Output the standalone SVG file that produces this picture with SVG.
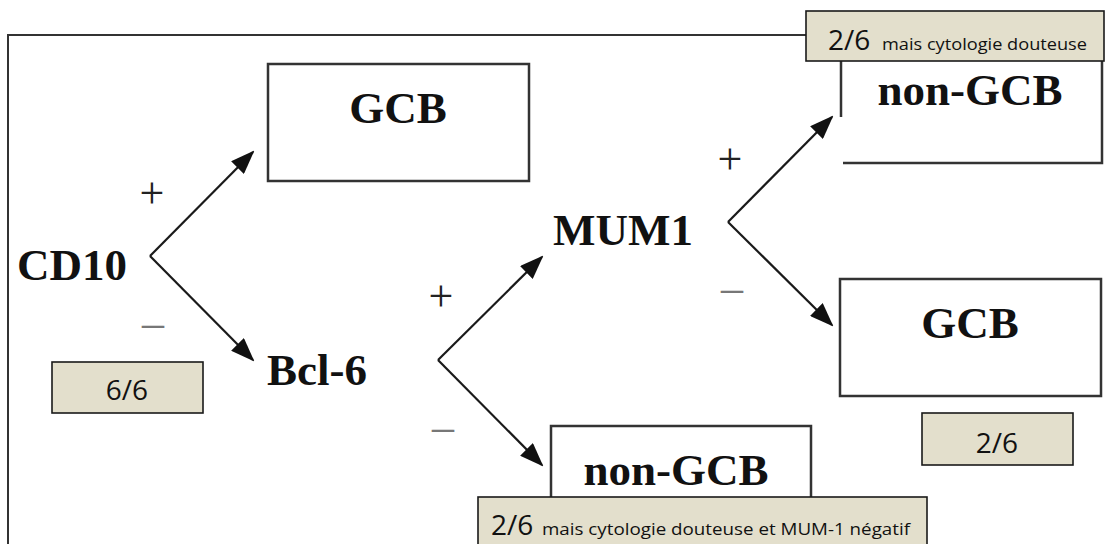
<svg xmlns="http://www.w3.org/2000/svg" width="1109" height="544" viewBox="0 0 1109 544">
<style>
.box{fill:#fff;stroke:#333;stroke-width:2.5}
.open{fill:none;stroke:#333;stroke-width:2.5}
.lab{fill:#e3dfcc;stroke:#1a1a1a;stroke-width:1.6}
.t{font-family:"Liberation Serif","Times New Roman",serif;font-weight:bold;font-size:45px;fill:#111}
.sign{font-family:"Liberation Serif","Times New Roman",serif;font-size:44px;fill:#222;text-anchor:middle}
.minus{fill:#777}
.n{font-family:"Open Sans",Lato,sans-serif;font-size:28px;fill:#111}
.s{font-family:"Open Sans",Lato,sans-serif;font-size:15.5px;fill:#111}
.c{text-anchor:middle}
.arr{stroke:#1a1a1a;stroke-width:2.2;fill:none;marker-end:url(#ah)}
</style>
<defs>
<marker id="ah" markerUnits="userSpaceOnUse" markerWidth="24" markerHeight="18" viewBox="0 0 24 18" refX="22" refY="9" orient="auto">
<path d="M0 0 L24 9 L0 18 Z" fill="#111"/>
</marker>
</defs>
<path id="frame" d="M8 544 V35 H806" fill="none" stroke="#333" stroke-width="2"/>
<g id="connectors">
<line class="arr" x1="150" y1="256" x2="253" y2="152"/>
<line class="arr" x1="150" y1="256" x2="253" y2="360"/>
<line class="arr" x1="438" y1="360" x2="542" y2="257"/>
<line class="arr" x1="438" y1="360" x2="542" y2="465"/>
<line class="arr" x1="728" y1="222" x2="832" y2="117"/>
<line class="arr" x1="728" y1="222" x2="832" y2="325"/>
<text class="sign" x="152" y="208">+</text>
<text class="sign minus" x="153" y="337">–</text>
<text class="sign" x="441" y="311">+</text>
<text class="sign minus" x="443" y="441">–</text>
<text class="sign" x="730" y="174">+</text>
<text class="sign minus" x="732" y="302">–</text>
</g>
<g id="cd10"><text class="t" x="17" y="280">CD10</text></g>
<g id="bcl6"><text class="t" x="267" y="385">Bcl-6</text></g>
<g id="mum1"><text class="t" x="553" y="245">MUM1</text></g>
<g id="gcb1">
<rect class="box" x="268" y="64" width="261" height="117"/>
<text class="t c" x="398" y="123">GCB</text>
</g>
<g id="gcb2">
<rect class="box" x="840" y="279" width="261" height="117"/>
<text class="t c" x="970" y="338">GCB</text>
</g>
<g id="nongcb1">
<path class="open" d="M841 55 V117 M843 163 H1102 V55"/>
<text class="t c" x="970" y="105">non-GCB</text>
</g>
<g id="nongcb2">
<path class="box" d="M551 510 V426 H811 V510"/>
<text class="t c" x="676" y="485">non-GCB</text>
</g>
<g id="lab66">
<rect class="lab" x="52" y="362" width="151" height="51"/>
<text class="n c" x="127" y="400">6/6</text>
</g>
<g id="lab26">
<rect class="lab" x="922" y="413" width="151" height="52"/>
<text class="n c" x="997" y="453">2/6</text>
</g>
<g id="labtop">
<rect class="lab" x="806" y="11" width="298" height="50"/>
<text x="828" y="50"><tspan class="n">2/6</tspan><tspan class="s" x="882" textLength="205" lengthAdjust="spacingAndGlyphs">mais cytologie douteuse</tspan></text>
</g>
<g id="labbottom">
<rect class="lab" x="478" y="497" width="449" height="60"/>
<text x="491" y="535"><tspan class="n">2/6</tspan><tspan class="s" x="542" textLength="368" lengthAdjust="spacingAndGlyphs">mais cytologie douteuse et MUM-1 négatif</tspan></text>
</g>
</svg>
